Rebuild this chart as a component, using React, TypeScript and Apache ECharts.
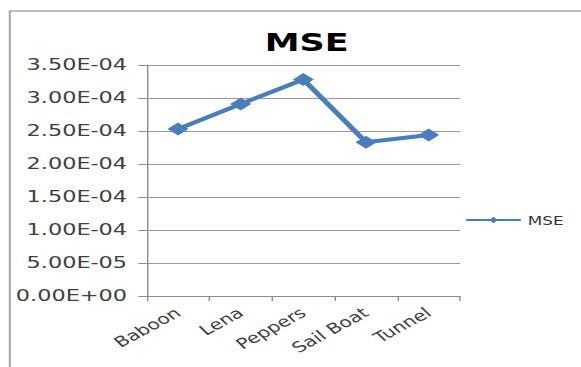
import React, { useEffect, useRef } from 'react';
import * as echarts from 'echarts';

const chartTitle = 'MSE';
const seriesName = 'MSE';
const categories = ['Baboon', 'Lena', 'Peppers', 'Sail Boat', 'Tunnel'];
const mseValues = [2.53e-4, 2.91e-4, 3.28e-4, 2.33e-4, 2.44e-4];
const yTickLabels = [
  '0.00E+00',
  '5.00E-05',
  '1.00E-04',
  '1.50E-04',
  '2.00E-04',
  '2.50E-04',
  '3.00E-04',
  '3.50E-04',
];
const yStep = 5e-5;

// The reference picture is stretched horizontally; reproduce that with a CSS scale.
const STRETCH = 1.4;
const W = 581 / STRETCH;
const H = 367;

export default function App() {
  const ref = useRef<HTMLDivElement>(null);
  useEffect(() => {
    const chart = echarts.init(ref.current!, null, { renderer: 'svg' });
    const font = 'DejaVu Sans';
    chart.setOption({
      animation: false,
      backgroundColor: '#ffffff',
      title: {
        text: chartTitle,
        left: 214,
        top: 25,
        textAlign: 'center',
        textStyle: { fontFamily: font, fontSize: 25, fontWeight: 'bold', color: '#000000' },
      },
      graphic: [
        {
          type: 'rect',
          shape: { x: 7, y: 11, width: 700, height: 600 },
          style: { fill: 'none', stroke: '#a8a8a8', lineWidth: 1.5 },
          silent: true,
        },
      ],
      legend: {
        data: [seriesName],
        left: 327,
        top: 209,
        itemWidth: 39,
        itemHeight: 8,
        textStyle: { fontFamily: font, fontSize: 12, color: '#333333' },
      },
      grid: { left: 104.8, right: 86.4, top: 65, bottom: 71, containLabel: false },
      xAxis: {
        type: 'category',
        data: categories,
        boundaryGap: true,
        axisLine: { lineStyle: { color: '#8c8c8c', width: 1 } },
        axisTick: { show: true, length: 5, lineStyle: { color: '#8c8c8c' } },
        axisLabel: {
          rotate: 37,
          margin: 15,
          fontFamily: font,
          fontSize: 14.5,
          color: '#404040',
          interval: 0,
        },
        splitLine: { show: false },
      },
      yAxis: {
        type: 'value',
        min: 0,
        max: 3.5e-4,
        interval: yStep,
        axisLine: { show: true, lineStyle: { color: '#8c8c8c', width: 1 } },
        axisTick: { show: true, length: 6, lineStyle: { color: '#8c8c8c' } },
        axisLabel: {
          margin: 14,
          fontFamily: font,
          fontSize: 16,
          color: '#404040',
          formatter: (v: number) => yTickLabels[Math.round(v / yStep)] ?? '',
        },
        splitLine: { show: true, lineStyle: { color: '#9a9a9a', width: 1 } },
      },
      series: [
        {
          name: seriesName,
          type: 'line',
          data: mseValues,
          symbol: 'diamond',
          symbolSize: [15, 13],
          itemStyle: { color: '#4a7ebb' },
          lineStyle: { color: '#4a7ebb', width: 4 },
        },
      ],
    });
    return () => chart.dispose();
  }, []);
  return (
    <div
      style={{
        position: 'fixed',
        left: 0,
        top: 0,
        width: 581,
        height: 367,
        overflow: 'hidden',
        background: '#ffffff',
      }}
    >
      <div
        ref={ref}
        style={{ width: W, height: H, transform: `scaleX(${STRETCH})`, transformOrigin: '0 0' }}
      />
    </div>
  );
}
